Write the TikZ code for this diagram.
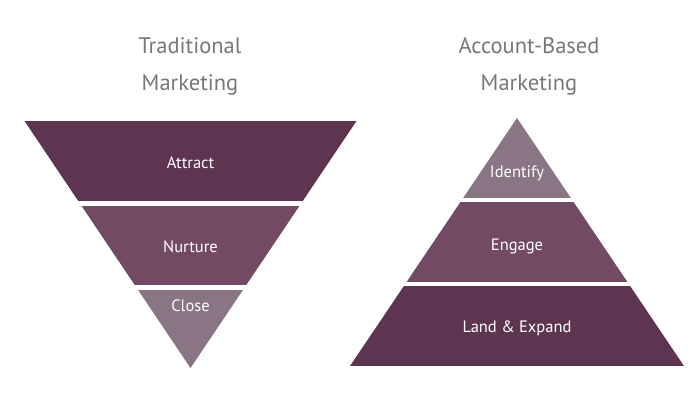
\documentclass[tikz,border=0pt]{standalone}
\usepackage{fontspec}
\setmainfont{PT Sans}
\definecolor{plumdark}{HTML}{5E3551}
\definecolor{plummid}{HTML}{734A63}
\definecolor{plumlight}{HTML}{8A7585}
\definecolor{titlegray}{HTML}{777777}

\begin{document}
\begin{tikzpicture}[x=1pt,y=-1pt,
  title/.style={text=titlegray,anchor=base,font=\fontsize{22.5}{27}\selectfont},
  band/.style={text=white,anchor=base,font=\fontsize{16.5}{20}\selectfont}]
  \useasboundingbox (0,0) rectangle (700,402);
  % titles
  \node[title] (trad1) at (190,53.3) {Traditional};
  \node[title] (trad2) at (190,90.7) {Marketing};
  \node[title] (abm1) at (529,53.3) {Account-Based};
  \node[title] (abm2) at (529,90.7) {Marketing};
  % traditional funnel
  \begin{scope}
    \clip (24.5,121) -- (356.5,121) -- (190.5,368) -- cycle;
    \fill[plumdark] (0,121) rectangle (700,200.5);
    \fill[plummid] (0,205.5) rectangle (700,285);
    \fill[plumlight] (0,289.5) rectangle (700,368);
  \end{scope}
  \node[band] (attract) at (190.5,168.3) {Attract};
  \node[band] (nurture) at (190.5,252.5) {Nurture};
  \node[band] (close) at (190.5,311) {Close};
  % account-based pyramid
  \begin{scope}
    \clip (517,118) -- (684,366) -- (350,366) -- cycle;
    \fill[plumlight] (0,118) rectangle (700,197.5);
    \fill[plummid] (0,201.5) rectangle (700,281.5);
    \fill[plumdark] (0,285.5) rectangle (700,366);
  \end{scope}
  \node[band] (identify) at (517,177.5) {Identify};
  \node[band] (engage) at (517,250) {Engage};
  \node[band] (land) at (517,332.5) {Land \& Expand};
\end{tikzpicture}
\end{document}
